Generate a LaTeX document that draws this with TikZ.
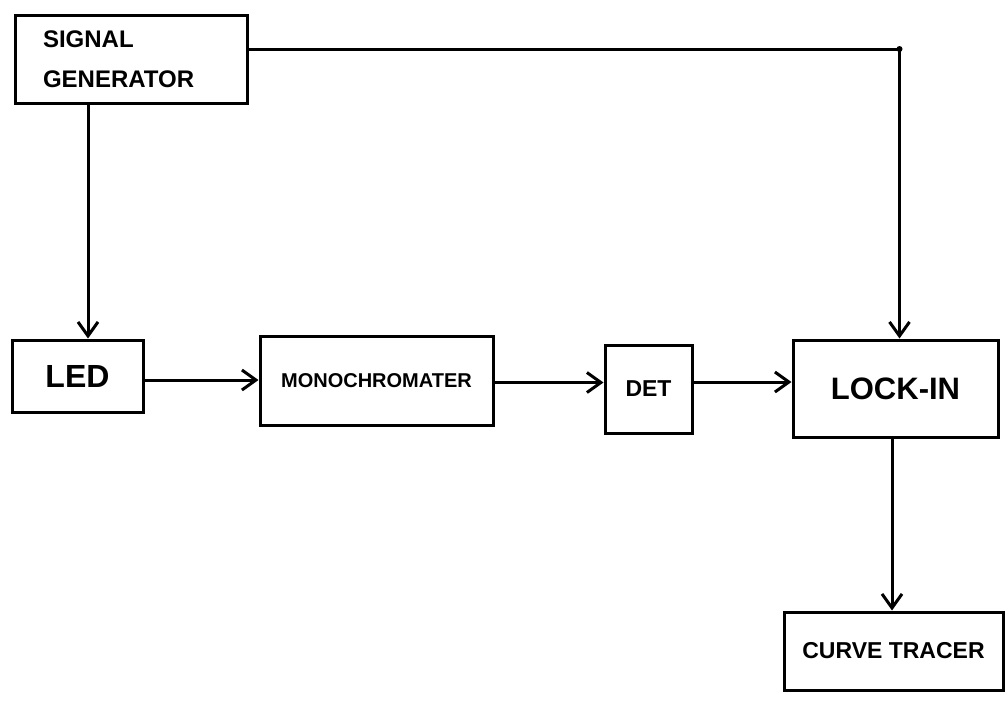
\documentclass[tikz,border=0pt]{standalone}
\usetikzlibrary{arrows.meta}
\usepackage{fontspec}
\setmainfont{Liberation Sans}

\tikzset{
  block/.style={draw, line width=1.5pt, inner sep=0pt, align=center},
  link/.style={line width=1.5pt, -{Straight Barb[length=7pt,width=10pt,line width=1.5pt]}}
}

\begin{document}
\begin{tikzpicture}[x=0.5pt, y=-0.5pt]
  \useasboundingbox (0,0) rectangle (1007,703);

  % Blocks
  \node[block, align=left, minimum width=116pt, minimum height=44pt, text width=88pt,
        font=\bfseries\fontsize{12}{20}\selectfont] (sig) at (131,59) {SIGNAL\\GENERATOR};
  \node[block, minimum width=65.5pt, minimum height=36pt,
        font=\bfseries\fontsize{16}{20}\selectfont] (led) at (77.5,376) {LED};
  \node[block, minimum width=116.5pt, minimum height=44.5pt,
        font=\bfseries\fontsize{10}{12}\selectfont] (mono) at (376.5,380.5) {MONOCHROMATER};
  \node[block, minimum width=43.5pt, minimum height=44pt,
        font=\bfseries\fontsize{11.5}{14}\selectfont] (det) at (648.5,389) {DET};
  \node[block, minimum width=102.5pt, minimum height=48.5pt,
        font=\bfseries\fontsize{15.5}{20}\selectfont] (lock) at (895.5,388.5) {LOCK-IN};
  \node[block, minimum width=109.5pt, minimum height=39pt,
        font=\bfseries\fontsize{11.5}{14}\selectfont] (curve) at (893.5,651) {CURVE TRACER};

  % Reference line to the lock-in
  \coordinate (lockin) at ([xshift=2pt]lock.north);
  \coordinate (corner) at ([yshift=5pt]sig.east -| lockin);
  \draw[link] ([yshift=5pt]sig.east) -- (corner) -- (lockin);
  \fill (corner) circle (1.5pt);

  % Signal path
  \draw[link] ([xshift=-21.5pt]sig.south) -- ([xshift=-21.5pt]sig.south |- led.north);
  \draw[link] ([yshift=-2pt]led.east) -- ([yshift=-2pt]led.east -| mono.west);
  \draw[link] ([yshift=-1pt]mono.east) -- ([yshift=-1pt]mono.east -| det.west);
  \draw[link] ([yshift=3.5pt]det.east) -- ([yshift=3.5pt]det.east -| lock.west);
  \draw[link] ([xshift=-1.75pt]lock.south) -- ([xshift=-1.75pt]lock.south |- curve.north);

\end{tikzpicture}
\end{document}
